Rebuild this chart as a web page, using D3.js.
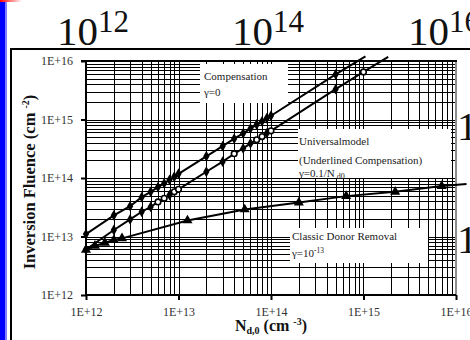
<!DOCTYPE html>
<html>
<head>
<meta charset="utf-8">
<script src="https://cdn.jsdelivr.net/npm/d3@7"></script>
<style>
  html, body { margin: 0; padding: 0; background: #fff; overflow: hidden; }
  svg { display: block; }
  text { font-family: "Liberation Serif", "Times New Roman", serif; }
</style>
</head>
<body>
<svg id="chart" width="470" height="340"></svg>
<script>
// ---- data ---------------------------------------------------------------
const decadeTicks = [1e12, 1e13, 1e14, 1e15, 1e16];
const tickLabels = ["1E+12", "1E+13", "1E+14", "1E+15", "1E+16"];

// Compensation, gamma = 0
const compensationN = [1e12, 2e12, 3e12, 4e12, 5e12, 6e12, 7e12, 8e12, 9e12, 1e13,
                       2e13, 3e13, 4e13, 5e13, 6e13, 7e13, 8e13, 9e13, 1e14, 5e14];
const compensationF = [1.1e13, 2.3e13, 3.3e13, 4.7e13, 5.8e13, 7e13, 8.1e13, 9.3e13, 1.05e14, 1.18e14,
                       2.35e14, 3.5e14, 4.7e14, 5.8e14, 7e14, 8.2e14, 9.3e14, 1.05e15, 1.16e15, 5.9e15];
const compensationEnd = [1.05e15, 1.2e16];

// Universal model (underlined compensation), gamma = 0.1/N_d0
const universalFilledN = [1e12, 2e12, 3e12, 4e12, 5e12, 8e12, 2e13, 3e13, 5e13, 6e13, 9e13, 5e14];
const universalFilledF = [6e12, 1.29e13, 1.96e13, 2.65e13, 3.2e13, 5.1e13, 1.28e14, 1.9e14, 3.2e14, 3.9e14, 5.8e14, 3.3e15];
const universalOpenN = [6e12, 7e12, 9e12, 1e13, 4e13, 7e13, 8e13, 1e14, 1e15];
const universalOpenF = [3.9e13, 4.5e13, 5.8e13, 6.4e13, 2.6e14, 4.5e14, 5.1e14, 6.4e14, 6.5e15];
const universalEnd = [1.85e15, 1.18e16];

// Classic donor removal, gamma = 1e-13
const classicN = [1e12, 1.25e12, 1.6e12, 2e12, 2.45e12, 1.25e13, 5.2e13, 2e14, 6.5e14, 2.2e15, 7e15];
const classicF = [5.9e12, 6.9e12, 7.8e12, 8.7e12, 9.3e12, 1.88e13, 2.9e13, 3.8e13, 4.9e13, 5.8e13, 7.3e13];
const classicEnd = [1.3e16, 7.9e13];

const compensationLabel = ["Compensation", "γ=0"];
const universalLabel = ["Universalmodel", "(Underlined Compensation)", "γ=0.1/N", "d0"];
const classicLabel = ["Classic Donor Removal", "γ=10", "-13"];

const backdropTopExponents = ["12", "14", "16"];

// ---- layout -------------------------------------------------------------
const svg = d3.select("#chart");
const x = d3.scaleLog().domain([1e12, 1e16]).range([86, 456]);
const y = d3.scaleLog().domain([1e12, 1e16]).range([295, 61]);
const crisp = v => Math.round(v) + 0.5;

// window decorations around the plot
const defs = svg.append("defs");
const grad = defs.append("linearGradient").attr("id", "redFade");
grad.append("stop").attr("offset", "0%").attr("stop-color", "#ff0000");
grad.append("stop").attr("offset", "100%").attr("stop-color", "#ff0000").attr("stop-opacity", 0);
svg.append("rect").attr("x", 0).attr("y", 0).attr("width", 22).attr("height", 2).attr("fill", "url(#redFade)");
svg.append("rect").attr("x", 0).attr("y", 2).attr("width", 5.5).attr("height", 338).attr("fill", "#0000ff");
svg.append("rect").attr("x", 5.5).attr("y", 2).attr("width", 1.5).attr("height", 338).attr("fill", "#8080ff");

// large exponent labels of the surrounding figure
const bigX = [57, 232, 408];
backdropTopExponents.forEach((e, i) => {
  const t = svg.append("text").attr("x", bigX[i]).attr("y", 45)
    .attr("font-size", 41).attr("fill", "#111");
  t.append("tspan").text("10");
  t.append("tspan").attr("dy", -13).attr("font-size", 31).text(e);
});
[140, 253].forEach(by => {
  svg.append("text").attr("x", 457).attr("y", by).attr("font-size", 41).attr("fill", "#111").text("10");
});

// outer chart frame
svg.append("path").attr("d", "M11,340 V49 H470").attr("fill", "none")
  .attr("stroke", "#000").attr("stroke-width", 2);

// ---- grid ---------------------------------------------------------------
const gridTicks = x.ticks();
const grid = svg.append("g").attr("stroke", "#000").attr("stroke-width", 1);
grid.selectAll("line.v").data(gridTicks).join("line").attr("class", "v")
  .attr("x1", d => crisp(x(d))).attr("x2", d => crisp(x(d)))
  .attr("y1", y(1e16)).attr("y2", y(1e12));
grid.selectAll("line.h").data(y.ticks()).join("line").attr("class", "h")
  .attr("x1", x(1e12)).attr("x2", x(1e16))
  .attr("y1", d => crisp(y(d))).attr("y2", d => crisp(y(d)));

// label panels (white, borderless) sit on top of the grid
const panels = svg.append("g").attr("fill", "#fff");
panels.append("rect").attr("x", 200).attr("y", 64).attr("width", 88).attr("height", 39);
panels.append("rect").attr("x", 298).attr("y", 129).attr("width", 153).attr("height", 49);
panels.append("rect").attr("x", 290).attr("y", 228).attr("width", 138).attr("height", 35);

const lab = svg.append("g").attr("font-size", 11).attr("fill", "#222");
lab.append("text").attr("x", 204).attr("y", 80).text(compensationLabel[0]);
lab.append("text").attr("x", 204).attr("y", 96).text(compensationLabel[1]);
lab.append("text").attr("x", 299).attr("y", 145).text(universalLabel[0]);
lab.append("text").attr("x", 299).attr("y", 163.5).text(universalLabel[1]);
const g3 = lab.append("text").attr("x", 299).attr("y", 176.5);
g3.append("tspan").text(universalLabel[2]);
g3.append("tspan").attr("dy", 2).attr("font-size", 8).text(" " + universalLabel[3]);
lab.append("text").attr("x", 292).attr("y", 239.5).text(classicLabel[0]);
const c2 = lab.append("text").attr("x", 292).attr("y", 257);
c2.append("tspan").text(classicLabel[1]);
c2.append("tspan").attr("dy", -4).attr("font-size", 7.5).text(classicLabel[2]);

// ---- plot frame & axes --------------------------------------------------
svg.append("line").attr("x1", x(1e16)).attr("x2", x(1e16)).attr("y1", y(1e16)).attr("y2", y(1e12))
  .attr("stroke", "#8c8c8c").attr("stroke-width", 2);
svg.append("line").attr("x1", x(1e12) - 5).attr("x2", x(1e16) + 1).attr("y1", y(1e16)).attr("y2", y(1e16))
  .attr("stroke", "#000").attr("stroke-width", 2.2);

const yAxis = svg.append("g").attr("transform", `translate(${x(1e12)},0)`)
  .call(d3.axisLeft(y).tickValues(decadeTicks).tickFormat((d, i) => tickLabels[i]).tickSize(5).tickPadding(8));
const xAxis = svg.append("g").attr("transform", `translate(0,${y(1e12)})`)
  .call(d3.axisBottom(x).tickValues(decadeTicks).tickFormat((d, i) => tickLabels[i]).tickSize(5).tickPadding(7));
[yAxis, xAxis].forEach(a => {
  a.select(".domain").attr("stroke", "#000").attr("stroke-width", 2);
  a.selectAll(".tick line").attr("stroke", "#000").attr("stroke-width", 2);
  a.selectAll(".tick text").attr("font-family", "Liberation Serif, Times New Roman, serif")
    .attr("font-size", 12).attr("fill", "#333");
});
yAxis.select(".domain").attr("d", `M0,${y(1e16) - 1}V${y(1e12) + 1}`);
xAxis.select(".domain").attr("d", `M${x(1e12) - 1},0H${x(1e16)}`);

// axis titles
const yt = svg.append("text").attr("transform", "translate(35,182) rotate(-90)")
  .attr("text-anchor", "middle").attr("font-size", 16.5).attr("font-weight", "bold").attr("fill", "#111");
yt.append("tspan").text("Inversion Fluence (cm ");
yt.append("tspan").attr("dy", -6).attr("font-size", 10).text("-2");
yt.append("tspan").attr("dy", 6).text(")");

const xt = svg.append("text").attr("x", 271).attr("y", 331)
  .attr("text-anchor", "middle").attr("font-size", 16).attr("font-weight", "bold").attr("fill", "#111");
xt.append("tspan").text("N");
xt.append("tspan").attr("dy", 3).attr("font-size", 10).text("d,0");
xt.append("tspan").attr("dy", -3).text(" (cm ");
xt.append("tspan").attr("dy", -6).attr("font-size", 10).text("-3");
xt.append("tspan").attr("dy", 6).text(")");

// ---- series -------------------------------------------------------------
const zip = (a, b) => a.map((v, i) => [v, b[i]]);
const compensation = zip(compensationN, compensationF);
const universalFilled = zip(universalFilledN, universalFilledF);
const universalOpen = zip(universalOpenN, universalOpenF);
const universal = universalFilled.concat(universalOpen).sort((a, b) => a[0] - b[0]);
const classic = zip(classicN, classicF);

const line = d3.line().x(d => x(d[0])).y(d => y(d[1]));
const lines = svg.append("g").attr("fill", "none").attr("stroke", "#000").attr("stroke-width", 2);
lines.append("path").attr("d", line(compensation.concat([compensationEnd])));
lines.append("path").attr("d", line(universal.concat([universalEnd])));
lines.append("path").attr("d", line(classic.concat([classicEnd])));

const diamond = d3.symbol().type(d3.symbolDiamond).size(34);
const triangle = d3.symbol().type(d3.symbolTriangle).size(44);
const marks = svg.append("g");
marks.selectAll("path.comp").data(compensation).join("path").attr("class", "comp")
  .attr("d", diamond).attr("transform", d => `translate(${x(d[0])},${y(d[1])})`).attr("fill", "#000");
marks.selectAll("path.uni").data(universalFilled).join("path").attr("class", "uni")
  .attr("d", diamond).attr("transform", d => `translate(${x(d[0])},${y(d[1])})`).attr("fill", "#000");
marks.selectAll("circle.uniOpen").data(universalOpen).join("circle").attr("class", "uniOpen")
  .attr("cx", d => x(d[0])).attr("cy", d => y(d[1])).attr("r", 2.8)
  .attr("fill", "#fff").attr("stroke", "#000").attr("stroke-width", 1.6);
marks.selectAll("path.cls").data(classic).join("path").attr("class", "cls")
  .attr("d", triangle).attr("transform", d => `translate(${x(d[0])},${y(d[1])})`).attr("fill", "#000");
</script>
</body>
</html>
